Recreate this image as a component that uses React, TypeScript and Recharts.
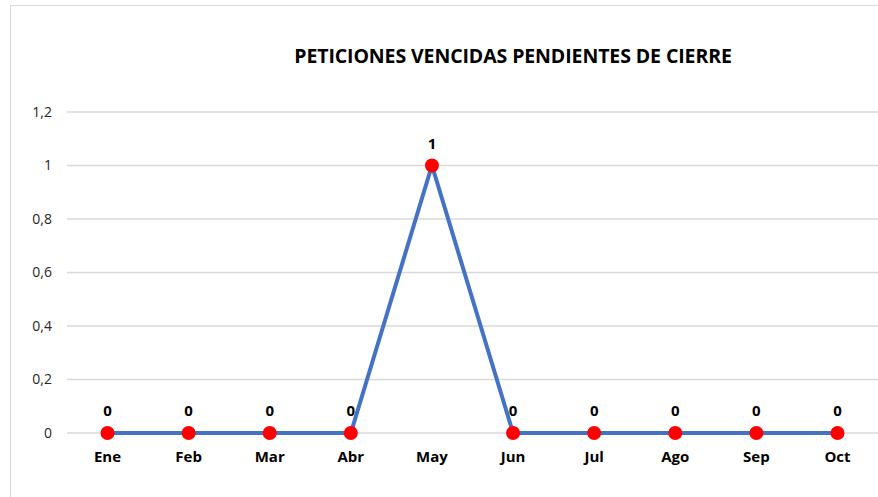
import React from "react";
import {
  LineChart,
  Line,
  XAxis,
  YAxis,
  CartesianGrid,
  LabelList,
} from "recharts";

const months = ["Ene", "Feb", "Mar", "Abr", "May", "Jun", "Jul", "Ago", "Sep", "Oct"];
const peticiones = [0, 0, 0, 0, 1, 0, 0, 0, 0, 0];
const yTicks = [0, 0.2, 0.4, 0.6, 0.8, 1, 1.2];

const chartTitle = "PETICIONES VENCIDAS PENDIENTES DE CIERRE";

const data = months.map((m, i) => ({ mes: m, valor: peticiones[i] }));

const FONT = "'Open Sans', 'Noto Sans', sans-serif";

export default function App() {
  return (
    <div
      style={{
        position: "absolute",
        left: 0,
        top: 0,
        width: 878,
        height: 497,
        overflow: "hidden",
        background: "#fff",
        fontFamily: FONT,
      }}
    >
      {/* chart frame */}
      <div
        style={{
          position: "absolute",
          left: 10,
          top: 5,
          width: 900,
          height: 540,
          border: "1.5px solid #d9d9d9",
          boxSizing: "border-box",
        }}
      />
      <div
        style={{
          position: "absolute",
          left: 0,
          width: 1026,
          top: 42,
          lineHeight: "28px",
          textAlign: "center",
          fontWeight: 700,
          fontSize: 19.5,
          color: "#000",
          letterSpacing: -0.1,
        }}
      >
        {chartTitle}
      </div>
      <LineChart
        width={878}
        height={497}
        data={data}
        margin={{ top: 112, right: 0, bottom: 24, left: 0 }}
        style={{ position: "absolute", left: 0, top: 0 }}
      >
        <CartesianGrid vertical={false} stroke="#d9d9d9" strokeWidth={1.3} />
        <XAxis
          dataKey="mes"
          axisLine={false}
          tickLine={false}
          tickSize={0}
          tickMargin={18}
          height={40}
          padding={{ left: 40.5, right: 40.5 }}
          tick={{ fill: "#000", fontSize: 15, fontWeight: 700, fontFamily: FONT }}
        />
        <YAxis
          width={67}
          domain={[0, 1.2]}
          ticks={yTicks}
          axisLine={false}
          tickLine={false}
          tickSize={0}
          tickMargin={15}
          tickFormatter={(v: number) => String(v).replace(".", ",")}
          tick={{ fill: "#262626", fontSize: 14, fontFamily: FONT }}
        />
        <Line
          dataKey="valor"
          stroke="#4472C4"
          strokeWidth={4}
          isAnimationActive={false}
          dot={{ r: 7, fill: "#ff0000", stroke: "none" }}
          activeDot={false}
        >
          <LabelList
            dataKey="valor"
            position="top"
            offset={17}
            style={{ fill: "#000", fontSize: 15, fontWeight: 700, fontFamily: FONT }}
          />
        </Line>
      </LineChart>
    </div>
  );
}
